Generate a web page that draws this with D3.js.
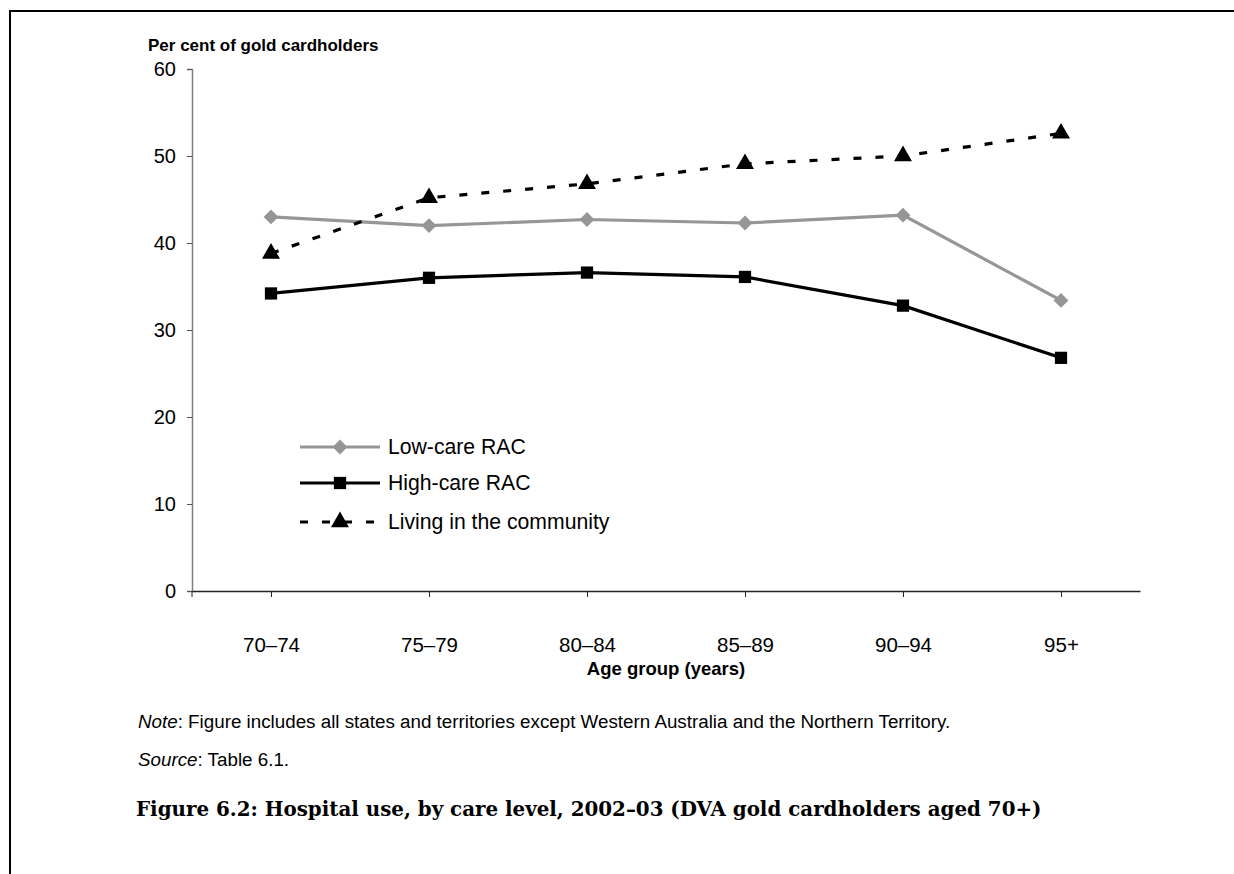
<!DOCTYPE html>
<html>
<head>
<meta charset="utf-8">
<script src="https://cdn.jsdelivr.net/npm/d3@7"></script>
<style>
  body { margin: 0; background: #fff; overflow: hidden; }
  svg { display: block; }
  text { font-family: "Liberation Sans", Arial, sans-serif; fill: #000; }
</style>
</head>
<body>
<div id="chart"></div>
<script>
// Data
const ageGroups = ["70–74", "75–79", "80–84", "85–89", "90–94", "95+"];
const lowCare = [43.0, 42.0, 42.7, 42.3, 43.2, 33.4];
const highCare = [34.2, 36.0, 36.6, 36.1, 32.8, 26.8];
const community = [38.8, 45.2, 46.8, 49.1, 50.0, 52.6];
const yTicks = [0, 10, 20, 30, 40, 50, 60];

const width = 1234, height = 874;
const svg = d3.select("#chart").append("svg")
    .attr("width", width)
    .attr("height", height);

// frame (top and left only)
svg.append("path")
    .attr("d", "M10,874 V11 H1234")
    .attr("fill", "none")
    .attr("stroke", "#000")
    .attr("stroke-width", 2);

const margin = { left: 192, right: 1140, top: 69, bottom: 591 };

const x = d3.scalePoint()
    .domain(ageGroups)
    .range([margin.left, margin.right])
    .padding(0.5);

const y = d3.scaleLinear()
    .domain([0, 60])
    .range([margin.bottom, margin.top]);

// y axis
const yAxis = svg.append("g")
    .attr("transform", `translate(${margin.left},0)`)
    .call(d3.axisLeft(y).tickValues(yTicks).tickSize(5).tickPadding(11));
yAxis.select(".domain").attr("stroke", "#808080").attr("stroke-width", 1.5);
yAxis.selectAll(".tick line").attr("stroke", "#555");
yAxis.selectAll("text").attr("font-size", 20).attr("font-family", "Liberation Sans, Arial, sans-serif");

// x axis: ticks at every category plus the axis start
const xAxis = svg.append("g")
    .attr("transform", `translate(0,${margin.bottom})`)
    .call(d3.axisBottom(x).tickSize(6).tickPadding(40).tickSizeOuter(0));
xAxis.select(".domain").attr("stroke", "#222").attr("stroke-width", 1.5);
xAxis.selectAll(".tick line").attr("stroke", "#222");
xAxis.selectAll("text").attr("font-size", 20.5).attr("font-family", "Liberation Sans, Arial, sans-serif");
xAxis.append("line")
    .attr("x1", margin.left).attr("x2", margin.left)
    .attr("y1", 0).attr("y2", 6)
    .attr("stroke", "#222");

// axis titles
svg.append("text")
    .attr("x", 148).attr("y", 51)
    .attr("font-size", 17).attr("font-weight", "bold")
    .text("Per cent of gold cardholders");

svg.append("text")
    .attr("x", (margin.left + margin.right) / 2).attr("y", 675)
    .attr("text-anchor", "middle")
    .attr("font-size", 18.5).attr("font-weight", "bold")
    .text("Age group (years)");

const line = d3.line()
    .x((d, i) => x(ageGroups[i]))
    .y(d => y(d));

const series = [
    { name: "Low-care RAC", values: lowCare, color: "#969696", dash: null, symbol: d3.symbolDiamond2, size: 140 },
    { name: "High-care RAC", values: highCare, color: "#000", dash: null, symbol: d3.symbolSquare, size: 150 },
    { name: "Living in the community", values: community, color: "#000", dash: "8,14", symbol: d3.symbolTriangle, size: 140 }
];

series.forEach(s => {
    svg.append("path")
        .datum(s.values)
        .attr("fill", "none")
        .attr("stroke", s.color)
        .attr("stroke-width", 3.2)
        .attr("stroke-dasharray", s.dash)
        .attr("d", line);

    svg.append("g").selectAll("path")
        .data(s.values)
        .join("path")
        .attr("transform", (d, i) => `translate(${x(ageGroups[i])},${y(d)})`)
        .attr("d", d3.symbol().type(s.symbol).size(s.size))
        .attr("fill", s.color);
});

// legend
const legendY = [447, 483, 522];
const legend = svg.append("g");
series.forEach((s, i) => {
    const g = legend.append("g").attr("transform", `translate(300,${legendY[i]})`);
    g.append("line")
        .attr("x1", 0).attr("x2", 80)
        .attr("stroke", s.color)
        .attr("stroke-width", 3.2)
        .attr("stroke-dasharray", s.dash);
    g.append("path")
        .attr("transform", "translate(40,0)")
        .attr("d", d3.symbol().type(s.symbol).size(s.size))
        .attr("fill", s.color);
    g.append("text")
        .attr("x", 88).attr("y", 7)
        .attr("font-size", 21.2)
        .text(s.name);
});

// note, source, caption
const note = svg.append("text").attr("x", 138).attr("y", 728).attr("font-size", 18.8);
note.append("tspan").attr("font-style", "italic").text("Note");
note.append("tspan").text(": Figure includes all states and territories except Western Australia and the Northern Territory.");

const source = svg.append("text").attr("x", 138).attr("y", 766).attr("font-size", 18.8);
source.append("tspan").attr("font-style", "italic").text("Source");
source.append("tspan").text(": Table 6.1.");

svg.append("text")
    .attr("x", 136).attr("y", 816)
    .attr("font-size", 19.85).attr("font-weight", "bold")
    .attr("style", "font-family: 'DejaVu Serif', serif")
    .text("Figure 6.2: Hospital use, by care level, 2002–03 (DVA gold cardholders aged 70+)");
</script>
</body>
</html>
